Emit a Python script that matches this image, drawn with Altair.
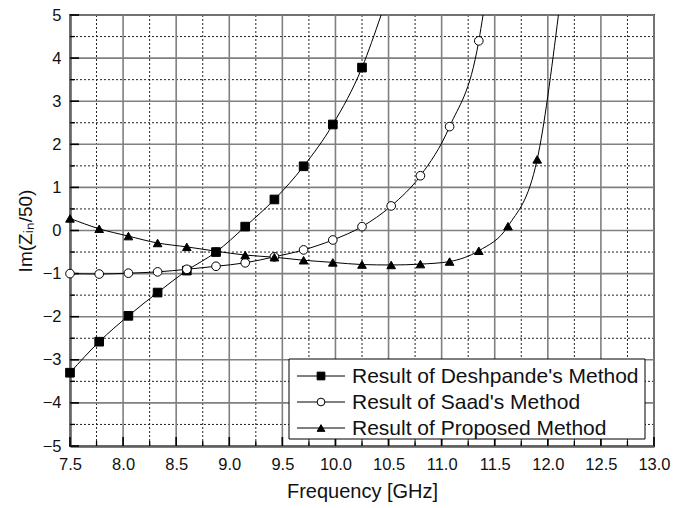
import altair as alt
import pandas as pd

# ---------------- data ----------------
FREQ = [7.5, 7.775, 8.05, 8.325, 8.6, 8.875, 9.15, 9.425, 9.7, 9.975,
        10.25, 10.525, 10.8, 11.075, 11.35, 11.625, 11.9]

DESH_X = FREQ[:11]
DESH_Y = [-3.30, -2.58, -1.98, -1.44, -0.93, -0.50, 0.09, 0.72, 1.49, 2.46, 3.78]
DESH_END = (10.43, 5.0)

SAAD_X = FREQ[:15]
SAAD_Y = [-1.00, -1.01, -0.99, -0.96, -0.90, -0.83, -0.75, -0.61, -0.45, -0.22,
          0.09, 0.57, 1.27, 2.41, 4.40]
SAAD_END = (11.39, 5.0)

PROP_X = FREQ[:17]
PROP_Y = [0.28, 0.04, -0.13, -0.29, -0.38, -0.48, -0.57, -0.62, -0.69, -0.74,
          -0.79, -0.80, -0.78, -0.72, -0.47, 0.10, 1.65]
PROP_END = (12.1, 5.0)

SERIES = ["Result of Deshpande's Method", "Result of Saad's Method", "Result of Proposed Method"]
SHAPES = ["square", "circle", "triangle-up"]
FILLS = ["black", "white", "black"]

X_MAJOR = [7.5, 8.0, 8.5, 9.0, 9.5, 10.0, 10.5, 11.0, 11.5, 12.0, 12.5, 13.0]
X_MINOR = [7.75, 8.25, 8.75, 9.25, 9.75, 10.25, 10.75, 11.25, 11.75, 12.25, 12.75]
Y_MAJOR = [-5, -4, -3, -2, -1, 0, 1, 2, 3, 4, 5]
Y_MINOR = [-4.5, -3.5, -2.5, -1.5, -0.5, 0.5, 1.5, 2.5, 3.5, 4.5]

# ---------------- tables ----------------
pts_rows, line_rows = [], []
for name, xs_, ys_, end in [(SERIES[0], DESH_X, DESH_Y, DESH_END),
                            (SERIES[1], SAAD_X, SAAD_Y, SAAD_END),
                            (SERIES[2], PROP_X, PROP_Y, PROP_END)]:
    for x, y in zip(xs_, ys_):
        pts_rows.append({"series": name, "f": x, "v": y})
        line_rows.append({"series": name, "f": x, "v": y})
    line_rows.append({"series": name, "f": end[0], "v": end[1]})
pts = pd.DataFrame(pts_rows)
lines = pd.DataFrame(line_rows)

W, H = 584, 431
FONT = "Liberation Sans"

xs = alt.Scale(domain=[7.5, 13.0], nice=False, zero=False)
ys = alt.Scale(domain=[-5, 5], nice=False, zero=False)

AX_X = alt.Axis(values=X_MAJOR, format=".1f", grid=False, ticks=False,
                domainColor="black", domainWidth=2,
                labelFontSize=16.5, labelFont=FONT, labelColor="#111",
                labelPadding=10, labelFlush=False,
                titleFontSize=20, titleFont=FONT, titleFontWeight="normal",
                titleColor="#111", titlePadding=9)
AX_Y = alt.Axis(values=Y_MAJOR, format="d", grid=False, ticks=False,
                domainColor="black", domainWidth=2,
                labelFontSize=16.5, labelFont=FONT, labelColor="#111",
                labelPadding=9, labelFlush=False,
                titleFontSize=19, titleFont=FONT, titleFontWeight="normal",
                titleColor="#111", titlePadding=7)

def X():
    return alt.X("f:Q", scale=xs, axis=AX_X, title="Frequency [GHz]")

def Y():
    return alt.Y("v:Q", scale=ys, axis=AX_Y, title="Im(Zᵢₙ/50)")

def vrules(vals, color, width, dash):
    return alt.Chart(pd.DataFrame({"f": vals})).mark_rule(
        color=color, strokeWidth=width, strokeDash=dash).encode(x=X())

def hrules(vals, color, width, dash):
    return alt.Chart(pd.DataFrame({"v": vals})).mark_rule(
        color=color, strokeWidth=width, strokeDash=dash).encode(y=Y())

minor_x = vrules(X_MINOR, "#222", 1, [2, 2])
minor_y = hrules(Y_MINOR, "#222", 1, [2, 2])
major_x = vrules(X_MAJOR, "#808080", 1.6, [1, 0])
major_y = hrules(Y_MAJOR, "#808080", 1.6, [1, 0])

# inward ticks
tick_l_major = alt.Chart(pd.DataFrame({"v": Y_MAJOR})).mark_rule(color="black", strokeWidth=1.6).encode(
    y=Y(), x=alt.value(0), x2=alt.value(9))
tick_l_minor = alt.Chart(pd.DataFrame({"v": Y_MINOR})).mark_rule(color="black", strokeWidth=1.3).encode(
    y=Y(), x=alt.value(0), x2=alt.value(5))
tick_b_major = alt.Chart(pd.DataFrame({"f": X_MAJOR})).mark_rule(color="black", strokeWidth=1.6).encode(
    x=X(), y=alt.value(H), y2=alt.value(H - 9))
tick_b_minor = alt.Chart(pd.DataFrame({"f": X_MINOR})).mark_rule(color="black", strokeWidth=1.3).encode(
    x=X(), y=alt.value(H), y2=alt.value(H - 5))

curve = alt.Chart(lines).mark_line(color="black", strokeWidth=1, interpolate="monotone", clip=True).encode(
    x=X(), y=Y(), detail="series:N", order="f:Q",
)

marks = alt.Chart(pts).mark_point(stroke="black", strokeWidth=1, opacity=1, size=75).encode(
    x=X(), y=Y(),
    shape=alt.Shape("series:N", scale=alt.Scale(domain=SERIES, range=SHAPES), legend=None),
    fill=alt.Fill("series:N", scale=alt.Scale(domain=SERIES, range=FILLS), legend=None),
)

# ---------------- legend ----------------
one = pd.DataFrame({"a": [0]})
legend_layers = [
    alt.Chart(one).mark_rect(fill="white", stroke="black", strokeWidth=1).encode(
        x=alt.value(219), x2=alt.value(575), y=alt.value(344), y2=alt.value(424))
]
ROW_Y = [361, 387, 413]
for name, shp, fll, ry in zip(SERIES, SHAPES, FILLS, ROW_Y):
    d = pd.DataFrame({"label": [name]})
    legend_layers.append(alt.Chart(d).mark_rule(color="black", strokeWidth=1).encode(
        x=alt.value(227), x2=alt.value(275), y=alt.value(ry)))
    legend_layers.append(alt.Chart(d).mark_point(shape=shp, fill=fll, stroke="black",
                                                 strokeWidth=1, opacity=1, size=60).encode(
        x=alt.value(251), y=alt.value(ry)))
    legend_layers.append(alt.Chart(d).mark_text(align="left", baseline="middle", font=FONT,
                                                fontSize=21, color="#111").encode(
        x=alt.value(282), y=alt.value(ry + 1), text="label:N"))

chart = alt.layer(
    minor_x, minor_y, major_x, major_y,
    tick_l_major, tick_l_minor, tick_b_major, tick_b_minor,
    curve, marks, *legend_layers
).properties(
    width=W, height=H,
    autosize=alt.AutoSizeParams(type="none"),
    padding={"left": 70, "top": 15, "right": 19, "bottom": 62},
    background="white",
).configure_view(stroke="#444", strokeWidth=2)

chart.save("out.html", embed_options={"renderer": "svg", "actions": False})
